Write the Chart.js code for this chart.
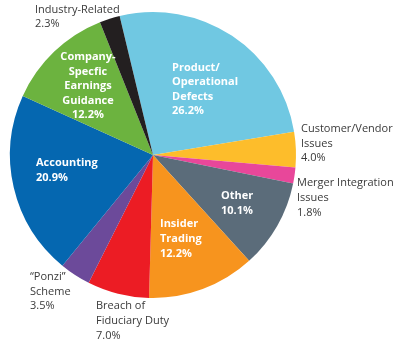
<!DOCTYPE html>
<html>
<head>
<meta charset="utf-8">
<script src="https://cdn.jsdelivr.net/npm/chart.js@4.4.1/dist/chart.umd.min.js"></script>
<style>
  html, body { margin: 0; padding: 0; background: #fff; }
  #grafico { display: block; }
</style>
</head>
<body>
<canvas id="grafico" width="400" height="346"></canvas>
<script>
// Datos del gráfico (sentido horario desde arriba)
const categorias = [
    'Product/Operational Defects',
    'Customer/Vendor Issues',
    'Merger Integration Issues',
    'Other',
    'Insider Trading',
    'Breach of Fiduciary Duty',
    '"Ponzi" Scheme',
    'Accounting',
    'Company-Specfic Earnings Guidance',
    'Industry-Related'
];
const porcentajes = [26.2, 4.0, 1.8, 10.1, 12.2, 7.0, 3.5, 20.9, 12.2, 2.3];
const colores = [
    '#70c8e2', '#fdbd2b', '#e8479a', '#5b6c7a', '#f7941e',
    '#ec1c24', '#6c4a9a', '#0567b0', '#6cb33f', '#231f20'
];

// Etiquetas de texto: líneas por categoría
const textos = [
    ['Product/', 'Operational', 'Defects', '26.2%'],
    ['Customer/Vendor', 'Issues', '4.0%'],
    ['Merger Integration', 'Issues', '1.8%'],
    ['Other', '10.1%'],
    ['Insider', 'Trading', '12.2%'],
    ['Breach of', 'Fiduciary Duty', '7.0%'],
    ['\u201cPonzi\u201d', 'Scheme', '3.5%'],
    ['Accounting', '20.9%'],
    ['Company-', 'Specfic', 'Earnings', 'Guidance', '12.2%'],
    ['Industry-Related', '2.3%']
];

// Posición de cada bloque de texto (x, y de la primera línea, alineación, interior)
const ubicaciones = [
    { x: 172, y: 68, align: 'left', dentro: true, lh: 14.2 },
    { x: 301, y: 129, align: 'left', dentro: false, lh: 14.5 },
    { x: 297, y: 183, align: 'left', dentro: false, lh: 15 },
    { x: 221, y: 196, align: 'left', dentro: true, lh: 15 },
    { x: 160, y: 224, align: 'left', dentro: true, lh: 15 },
    { x: 96, y: 306, align: 'left', dentro: false, lh: 15 },
    { x: 30, y: 277, align: 'left', dentro: false, lh: 14.5 },
    { x: 36, y: 163, align: 'left', dentro: true, lh: 15 },
    { x: 88, y: 57, align: 'center', dentro: true, lh: 14.5 },
    { x: 35, y: 10, align: 'left', dentro: false, lh: 14 }
];

const pluginEtiquetas = {
    id: 'etiquetas',
    afterDatasetsDraw(chart) {
        const ctx = chart.ctx;
        ctx.save();
        ctx.textBaseline = 'middle';
        textos.forEach((lineas, i) => {
            const u = ubicaciones[i];
            ctx.textAlign = u.align;
            ctx.fillStyle = u.dentro ? '#ffffff' : '#3a3a3a';
            ctx.font = (u.dentro ? 'bold ' : '') + '11px "Open Sans", sans-serif';
            lineas.forEach((t, j) => {
                ctx.fillText(t, u.x, u.y + j * u.lh);
            });
        });
        ctx.restore();
    }
};

new Chart(document.getElementById('grafico').getContext('2d'), {
    type: 'pie',
    data: {
        labels: categorias,
        datasets: [{
            data: porcentajes,
            backgroundColor: colores,
            borderWidth: 0
        }]
    },
    options: {
        responsive: false,
        animation: false,
        rotation: -13.5,
        layout: {
            padding: { left: 10, right: 104, top: 12, bottom: 48 }
        },
        plugins: {
            legend: { display: false },
            tooltip: { enabled: false }
        }
    },
    plugins: [pluginEtiquetas]
});
</script>
</body>
</html>
